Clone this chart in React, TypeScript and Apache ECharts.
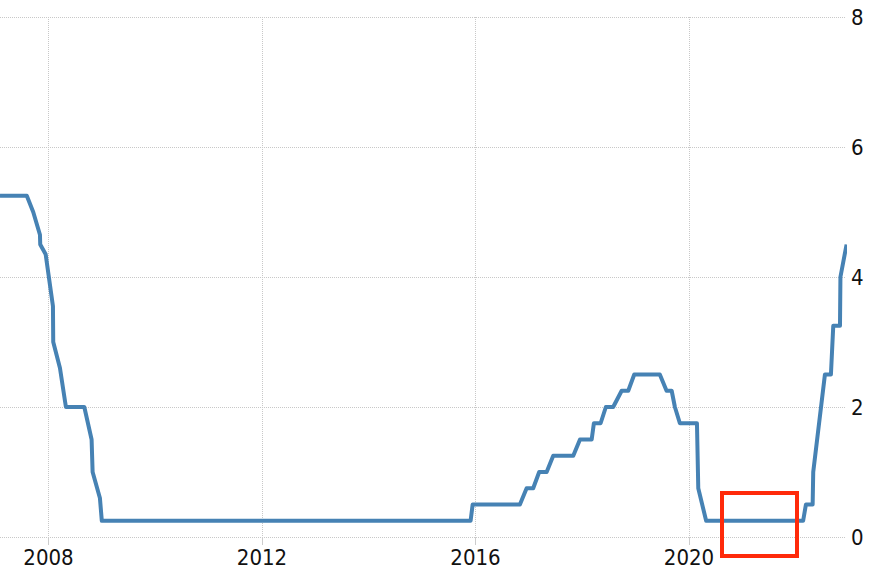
import React, { useEffect, useRef } from "react";
import * as echarts from "echarts";

const dates: string[] = [
  "2007-02-03", "2007-08-05", "2007-09-18", "2007-11-03", "2007-11-05", "2007-12-12",
  "2008-01-31", "2008-02-02", "2008-03-19", "2008-04-22", "2008-04-29", "2008-09-02",
  "2008-10-22", "2008-10-29", "2008-12-18", "2008-12-31",
  "2015-11-28", "2015-12-12", "2016-10-31", "2016-12-16",
  "2017-01-30", "2017-03-12", "2017-05-02", "2017-06-16", "2017-10-31", "2017-12-16",
  "2018-03-06", "2018-03-21", "2018-05-06", "2018-06-11", "2018-07-31", "2018-09-27",
  "2018-11-11", "2018-12-22",
  "2019-06-15", "2019-07-31", "2019-09-04", "2019-09-26", "2019-10-30",
  "2020-02-24", "2020-03-04", "2020-04-27",
  "2022-02-20", "2022-03-11", "2022-04-26", "2022-04-30", "2022-07-19", "2022-08-29",
  "2022-09-14", "2022-10-30", "2022-11-02", "2022-12-14",
];

const rates: number[] = [
  5.25, 5.25, 5.0, 4.65, 4.5, 4.35,
  3.55, 3.0, 2.6, 2.1, 2.0, 2.0,
  1.5, 1.0, 0.6, 0.25,
  0.25, 0.5, 0.5, 0.75,
  0.75, 1.0, 1.0, 1.25, 1.25, 1.5,
  1.5, 1.75, 1.75, 2.0, 2.0, 2.25,
  2.25, 2.5,
  2.5, 2.25, 2.25, 2.0, 1.75,
  1.75, 0.75, 0.25,
  0.25, 0.5, 0.5, 1.0, 2.5, 2.5,
  3.25, 3.25, 4.0, 4.5,
];

const yTicks: number[] = [0, 2, 4, 6, 8];
const xTickYears: number[] = [2008, 2012, 2016, 2020];
const xRange: number[] = [2007.0913, 2022.9226];

function toYear(s: string): number {
  const [y, m, d] = s.split("-").map(Number);
  const start = Date.UTC(y, 0, 1);
  const end = Date.UTC(y + 1, 0, 1);
  const t = Date.UTC(y, m - 1, d);
  return y + (t - start + 43200000) / (end - start);
}

const FONT = "'DejaVu Sans Condensed', 'DejaVu Sans', sans-serif";

export default function App() {
  const ref = useRef<HTMLDivElement>(null);
  useEffect(() => {
    if (!ref.current) return;
    const chart = echarts.init(ref.current, null, { renderer: "svg" });
    const data = dates.map((d, i) => [toYear(d), rates[i]]);
    chart.setOption({
      animation: false,
      backgroundColor: "#ffffff",
      grid: { left: 0, right: 37, top: 17, bottom: 45, containLabel: false },
      xAxis: {
        type: "value",
        min: xRange[0],
        max: xRange[1],
        axisLine: { show: false },
        axisTick: {
          show: true,
          length: 8,
          customValues: xTickYears,
          lineStyle: { color: "#cccccc", width: 1 },
        },
        axisLabel: {
          show: true,
          margin: 9,
          fontSize: 22,
          fontFamily: FONT,
          color: "#111111",
          customValues: xTickYears,
          formatter: (v: number) => String(Math.round(v)),
        },
        splitLine: { show: true, lineStyle: { color: "#c8c8c8", type: "dotted", width: 1 } },
      },
      yAxis: {
        type: "value",
        position: "right",
        min: yTicks[0],
        max: yTicks[yTicks.length - 1],
        interval: 2,
        axisLine: { show: false },
        axisTick: { show: false },
        axisLabel: {
          margin: 6,
          fontSize: 22,
          fontFamily: FONT,
          color: "#111111",
        },
        splitLine: { show: true, lineStyle: { color: "#c8c8c8", type: "dotted", width: 1 } },
      },
      series: [
        {
          type: "line",
          data,
          showSymbol: false,
          symbol: "none",
          clip: false,
          lineStyle: { color: "#4682b4", width: 4, join: "round" },
        },
      ],
      graphic: [
        {
          type: "rect",
          shape: { x: 722, y: 493, width: 75, height: 63 },
          style: { fill: "none", stroke: "#ff2a0a", lineWidth: 4 },
          z: 100,
        },
      ],
    });
    return () => chart.dispose();
  }, []);
  return (
    <div
      ref={ref}
      style={{ position: "fixed", left: 0, top: 0, width: 882, height: 582 }}
    />
  );
}
